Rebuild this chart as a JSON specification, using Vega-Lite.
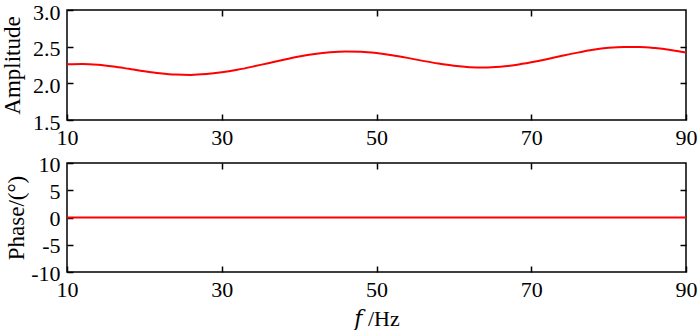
{
  "$schema": "https://vega.github.io/schema/vega-lite/v6.json",
  "background": "white",
  "padding": {"left": 0, "top": 0, "right": 2, "bottom": 0},
  "config": {
    "font": "Liberation Serif",
    "view": {"stroke": "black", "strokeWidth": 1.5},
    "axis": {"grid": false, "domain": false, "labelFont": "Liberation Serif", "titleFont": "Liberation Serif", "labelFontSize": 22, "titleFontSize": 23, "titleFontWeight": "normal", "labelColor": "black", "titleColor": "black", "tickColor": "black", "tickWidth": 1.5, "tickSize": -6, "labelFlush": false, "labelOverlap": false}
  },
  "datasets": {
    "amp": [
      {"f": 10, "amplitude": 2.260}, {"f": 12, "amplitude": 2.265}, {"f": 14, "amplitude": 2.254}, {"f": 16, "amplitude": 2.230},
      {"f": 18, "amplitude": 2.198}, {"f": 20, "amplitude": 2.165}, {"f": 22, "amplitude": 2.137}, {"f": 24, "amplitude": 2.119},
      {"f": 26, "amplitude": 2.115}, {"f": 28, "amplitude": 2.126}, {"f": 30, "amplitude": 2.150}, {"f": 32, "amplitude": 2.185},
      {"f": 34, "amplitude": 2.228}, {"f": 36, "amplitude": 2.275}, {"f": 38, "amplitude": 2.322}, {"f": 40, "amplitude": 2.365},
      {"f": 42, "amplitude": 2.400}, {"f": 44, "amplitude": 2.424}, {"f": 46, "amplitude": 2.435}, {"f": 48, "amplitude": 2.431},
      {"f": 50, "amplitude": 2.413}, {"f": 52, "amplitude": 2.384}, {"f": 54, "amplitude": 2.347}, {"f": 56, "amplitude": 2.306},
      {"f": 58, "amplitude": 2.269}, {"f": 60, "amplitude": 2.239}, {"f": 62, "amplitude": 2.221}, {"f": 64, "amplitude": 2.216},
      {"f": 66, "amplitude": 2.227}, {"f": 68, "amplitude": 2.251}, {"f": 70, "amplitude": 2.287}, {"f": 72, "amplitude": 2.329},
      {"f": 74, "amplitude": 2.375}, {"f": 76, "amplitude": 2.419}, {"f": 78, "amplitude": 2.457}, {"f": 80, "amplitude": 2.484},
      {"f": 82, "amplitude": 2.497}, {"f": 84, "amplitude": 2.496}, {"f": 86, "amplitude": 2.481}, {"f": 88, "amplitude": 2.455},
      {"f": 90, "amplitude": 2.420}
    ],
    "phase": [{"f": 10, "phase": 0}, {"f": 90, "phase": 0}]
  },
  "spacing": 3,
  "vconcat": [
    {
      "width": 619,
      "height": 110,
      "data": {"name": "amp"},
      "resolve": {"axis": {"x": "independent", "y": "independent"}},
      "layer": [
        {
          "mark": {"type": "line", "color": "#ff0000", "strokeWidth": 2, "interpolate": "monotone"},
          "encoding": {
            "x": {"field": "f", "type": "quantitative", "scale": {"domain": [10, 90], "nice": false}, "axis": {"orient": "bottom", "values": [10, 30, 50, 70, 90], "labelPadding": 13, "title": null}},
            "y": {"field": "amplitude", "type": "quantitative", "scale": {"domain": [1.5, 3.0], "nice": false, "zero": false}, "axis": {"orient": "left", "values": [1.5, 2.0, 2.5, 3.0], "format": ".1f", "labelPadding": 13, "labelOffset": 2, "title": "Amplitude", "titlePadding": 8}}
          }
        },
        {
          "mark": {"type": "line", "opacity": 0},
          "encoding": {
            "x": {"field": "f", "type": "quantitative", "axis": {"orient": "top", "values": [30, 50, 70], "labels": false, "title": null}},
            "y": {"field": "amplitude", "type": "quantitative", "axis": {"orient": "right", "values": [2.0, 2.5], "labels": false, "title": null}}
          }
        }
      ]
    },
    {
      "width": 619,
      "height": 109,
      "data": {"name": "phase"},
      "resolve": {"axis": {"x": "independent", "y": "independent"}},
      "layer": [
        {
          "mark": {"type": "line", "color": "#ff0000", "strokeWidth": 2},
          "encoding": {
            "x": {"field": "f", "type": "quantitative", "scale": {"domain": [10, 90], "nice": false}, "axis": {"orient": "bottom", "values": [10, 30, 50, 70, 90], "labelPadding": 13, "title": "𝑓 /Hz", "titleFont": "'Liberation Serif', 'DejaVu Serif', serif", "titleFontSize": 22, "titlePadding": 8}},
            "y": {"field": "phase", "type": "quantitative", "scale": {"domain": [-10, 10], "nice": false}, "axis": {"orient": "left", "values": [-10, -5, 0, 5, 10], "labelExpr": "replace(datum.label, '−', '-')", "labelPadding": 13, "labelOffset": 1, "title": "Phase/(°)", "titlePadding": 2}}
          }
        },
        {
          "mark": {"type": "line", "opacity": 0},
          "encoding": {
            "x": {"field": "f", "type": "quantitative", "axis": {"orient": "top", "values": [30, 50, 70], "labels": false, "title": null}},
            "y": {"field": "phase", "type": "quantitative", "axis": {"orient": "right", "values": [-5, 5], "labels": false, "title": null}}
          }
        }
      ]
    }
  ]
}
